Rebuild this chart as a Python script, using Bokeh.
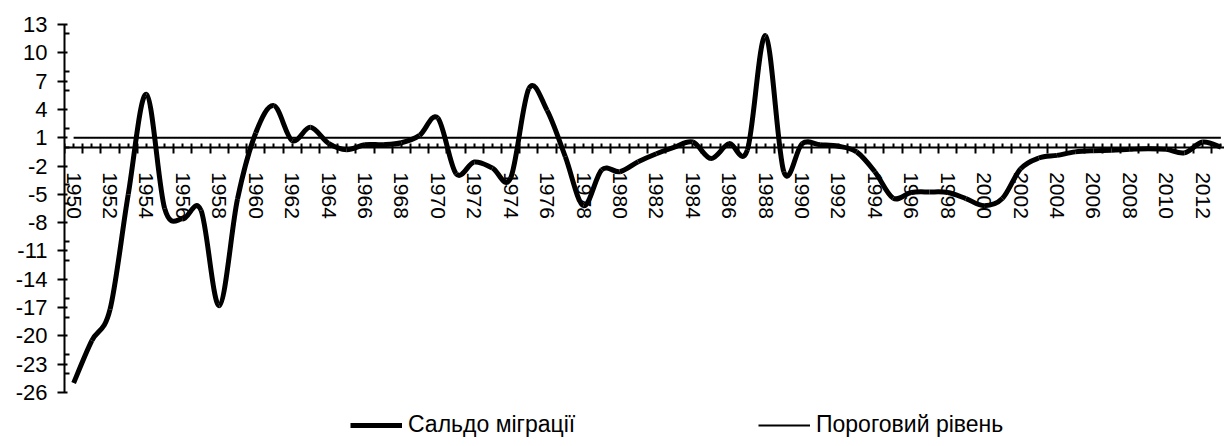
from bokeh.plotting import figure
from bokeh.models import (Range1d, LinearAxis, FixedTicker, Legend, LegendItem,
                          ColumnDataSource)
from bokeh.embed import file_html
from bokeh.resources import INLINE

years = list(range(1950, 2014))
saldo = [-25.0, -20.5, -17.2, -5.0, 5.6, -6.5, -7.6, -6.7, -16.8, -5.5,
         1.5, 4.4, 0.7, 2.1, 0.4, -0.27, 0.26, 0.26, 0.47, 1.25,
         3.1, -2.8, -1.57, -2.2, -3.27, 6.2, 3.9, -1.0, -6.2, -2.4,
         -2.6, -1.55, -0.7, 0.0, 0.55, -1.2, 0.37, -0.3, 11.8, -2.6,
         0.37, 0.26, 0.1, -0.5, -2.6, -5.4, -4.8, -4.75, -4.8, -5.45,
         -6.2, -5.45, -2.3, -1.15, -0.87, -0.5, -0.37, -0.33, -0.23, -0.16,
         -0.23, -0.6, 0.55, 0.0]
threshold = [1.0] * len(years)
y_ticks = [13, 10, 7, 4, 1, -2, -5, -8, -11, -14, -17, -20, -23, -26]
x_labels = list(range(1950, 2013, 2))
series_names = ["Сальдо міграції", "Пороговий рівень"]

FONT = "Liberation Sans"


def bezier_source(xs, ys):
    n = len(xs)
    d = dict(x0=[], y0=[], x1=[], y1=[], cx0=[], cy0=[], cx1=[], cy1=[])
    for i in range(n - 1):
        xp, yp = (xs[i - 1], ys[i - 1]) if i > 0 else (xs[i], ys[i])
        xn2, yn2 = (xs[i + 2], ys[i + 2]) if i + 2 < n else (xs[i + 1], ys[i + 1])
        d["x0"].append(xs[i]); d["y0"].append(ys[i])
        d["x1"].append(xs[i + 1]); d["y1"].append(ys[i + 1])
        d["cx0"].append(xs[i] + (xs[i + 1] - xp) / 6.0)
        d["cy0"].append(ys[i] + (ys[i + 1] - yp) / 6.0)
        d["cx1"].append(xs[i + 1] - (xn2 - xs[i]) / 6.0)
        d["cy1"].append(ys[i + 1] - (yn2 - ys[i]) / 6.0)
    return ColumnDataSource(d)


# frame: 420 px tall, 13 at top, -26 at 368 px below top (9.436 px / unit)
p = figure(width=1224, height=445, output_backend="svg", toolbar_location=None,
           x_range=Range1d(1949.5, 2013.2), y_range=Range1d(13 - 420 * 39 / 368, 13),
           x_axis_location=None, min_border_left=64, min_border_right=0,
           min_border_top=24, min_border_bottom=1)
p.outline_line_color = None
p.xgrid.visible = False
p.ygrid.visible = False
p.background_fill_color = "white"
p.border_fill_color = "white"

# y axis
ya = p.yaxis[0]
ya.bounds = (-26, 13)
ya.ticker = FixedTicker(ticks=y_ticks,
                        minor_ticks=[v for v in range(-26, 14, 2) if v not in y_ticks])
ya.major_label_overrides = {v: str(v) for v in y_ticks}
ya.major_label_text_font = FONT
ya.major_label_text_font_size = "22px"
ya.major_label_text_color = "black"
ya.major_label_standoff = 10
ya.axis_line_width = 2
ya.axis_line_color = "black"
ya.major_tick_line_width = 2
ya.major_tick_out = 7
ya.major_tick_in = 3
ya.minor_tick_line_width = 2
ya.minor_tick_out = 0
ya.minor_tick_in = 5

# x axis (ticks), crossing at y = 0
xt = LinearAxis(fixed_location=0)
xt.ticker = FixedTicker(ticks=[y + 0.5 for y in range(1949, 2014)],
                        minor_ticks=years)
xt.major_label_text_font_size = "0px"
xt.major_label_text_alpha = 0
xt.axis_line_width = 2
xt.axis_line_color = "black"
xt.major_tick_line_width = 2
xt.major_tick_in = 4
xt.major_tick_out = 6
xt.minor_tick_line_width = 2
xt.minor_tick_in = 4
xt.minor_tick_out = 0
p.add_layout(xt, "below")

# x axis labels
xl = LinearAxis(fixed_location=0)
xl.ticker = FixedTicker(ticks=x_labels, minor_ticks=[])
xl.major_label_overrides = {v: str(v) for v in x_labels}
xl.major_label_orientation = "vertical"
xl.major_label_text_font = FONT
xl.major_label_text_font_size = "21px"
xl.major_label_text_color = "black"
xl.major_label_standoff = 19
xl.axis_line_color = None
xl.major_tick_line_color = None
xl.minor_tick_line_color = None
p.add_layout(xl, "below")

r_thr = p.line(years, threshold, line_color="black", line_width=2)
r_sal = p.bezier(x0="x0", y0="y0", x1="x1", y1="y1", cx0="cx0", cy0="cy0",
                 cx1="cx1", cy1="cy1", source=bezier_source(years, saldo),
                 line_color="black", line_width=5)

legend = Legend(items=[LegendItem(label=series_names[0], renderers=[r_sal]),
                       LegendItem(label=series_names[1], renderers=[r_thr])],
                location=(286, 6), orientation="horizontal",
                padding=0, margin=0, spacing=0,
                glyph_width=52, glyph_height=20, label_height=20,
                label_width=350, label_standoff=6, label_text_font=FONT,
                label_text_font_size="23px", label_text_color="black",
                border_line_color=None, background_fill_alpha=0)
p.add_layout(legend, "center")

open("out.html", "w").write(file_html(p, INLINE))
